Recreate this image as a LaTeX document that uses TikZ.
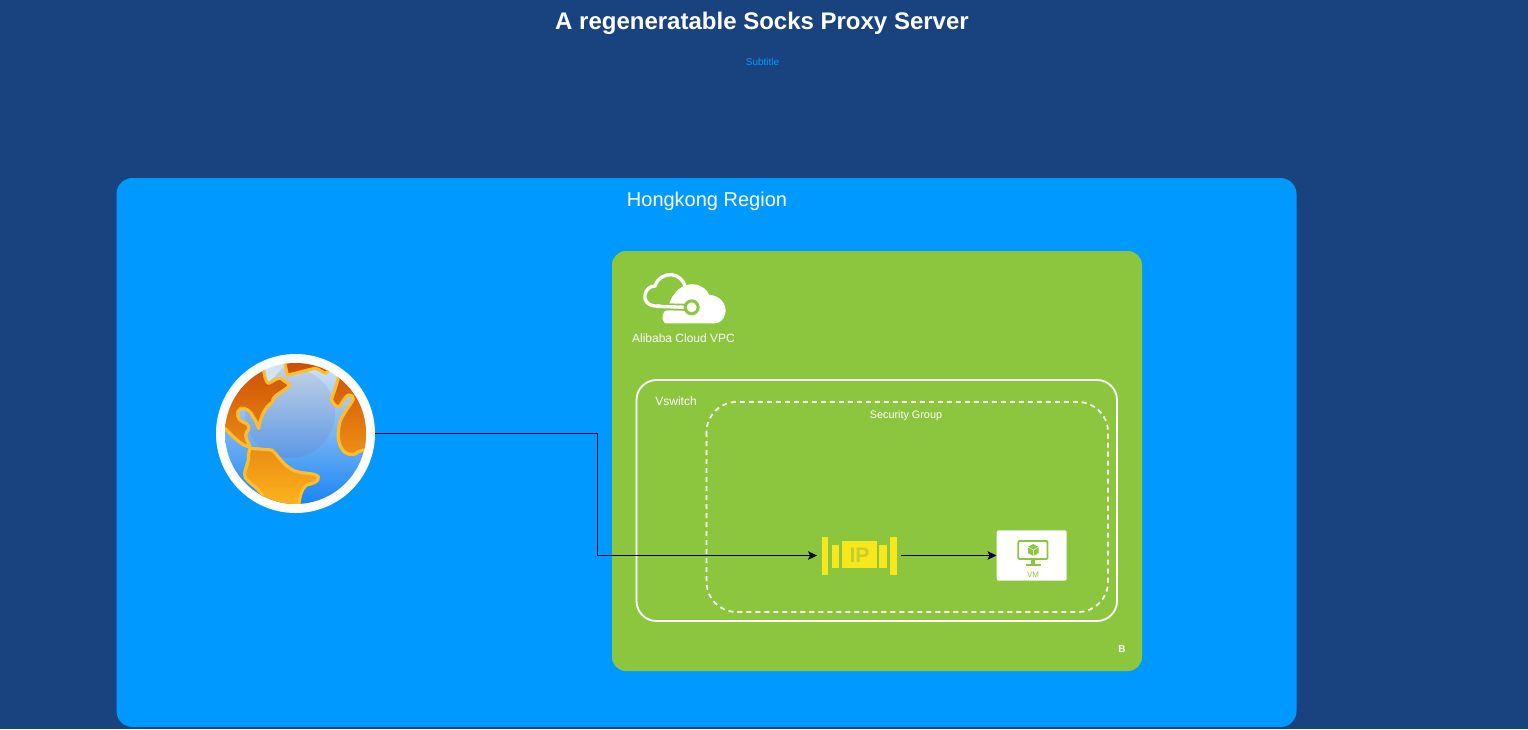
\documentclass[tikz,border=0pt]{standalone}
\usepackage{fontspec}
\setmainfont{Liberation Sans}
\usepackage{tikz}
\usetikzlibrary{positioning,arrows.meta,calc}
\definecolor{pagebg}{HTML}{18437F}
\definecolor{regionblue}{HTML}{0099FF}
\definecolor{vpcgreen}{HTML}{8CC63F}
\definecolor{ipyellow}{HTML}{F7E81E}
\definecolor{iptext}{HTML}{C6CE2C}
\definecolor{landedge}{HTML}{FFBE2E}
\definecolor{landtop}{HTML}{CC4A04}
\definecolor{landbottom}{HTML}{FFB81F}
\definecolor{seatop}{HTML}{D2E4F6}
\definecolor{seamid}{HTML}{7DB6FA}
\definecolor{seabottom}{HTML}{1B85F2}
\definecolor{glowtop}{HTML}{C0D0E4}
\definecolor{glowbottom}{HTML}{5C98E6}

\begin{document}
\begin{tikzpicture}[
    x=1pt, y=-1pt,
    region/.style={fill=regionblue, rounded corners=16pt},
    vpc/.style={fill=vpcgreen, rounded corners=14pt},
    vswitch/.style={draw=white, line width=1.8pt, rounded corners=20pt},
    secgroup/.style={draw=white, line width=1.7pt, dash pattern=on 5pt off 4pt, rounded corners=30pt},
    label/.style={text=white, inner sep=0pt},
    land/.style={top color=landtop, bottom color=landbottom,
                 draw=landedge, line width=3.2pt, line join=round},
    arr/.style={-{Stealth[length=9pt,width=8.5pt,inset=2pt]}, line width=0.9pt, draw=black!85!blue}
]
  \fill[pagebg] (0,0) rectangle (1528,729);
  \useasboundingbox (0,0) rectangle (1528,729);

  \node[label, font=\fontsize{24}{28}\selectfont\bfseries] (title) at (762,23.5) {A regeneratable Socks Proxy Server};
  \node[inner sep=0pt, text=regionblue, font=\fontsize{10}{12}\selectfont] (subtitle) at (762.5,62) {Subtitle};

  \fill[region] (116.5,178) rectangle (1296.5,727);
  \node[label, font=\fontsize{20}{24}\selectfont] (hongkong) at (707,201.5) {Hongkong Region};

  \fill[vpc] (612,251) rectangle (1142,671);
  \node[label, font=\fontsize{12}{14}\selectfont] (vpclabel) at (683.5,338.5) {Alibaba Cloud VPC};
  \node[label, font=\fontsize{10}{12}\selectfont\bfseries] (zone) at (1122,649.5) {B};

  \draw[vswitch] (636.5,380) rectangle (1117,621);
  \node[label, font=\fontsize{12}{14}\selectfont] (vswlabel) at (676,401.5) {Vswitch};
  \draw[secgroup] (706.5,402) rectangle (1108,612);
  \node[label, font=\fontsize{10.8}{12}\selectfont] (sglabel) at (906,416) {Security Group};

  % cloud
  \begin{scope}[shift={(620,260)}, scale=0.3333]
    \draw[white, line width=3.4pt, line cap=round]
      (200,142) -- (105,138) .. controls (80,135) and (72,120) .. (75,105)
      .. controls (78,88) and (90,78) .. (105,78)
      .. controls (112,55) and (135,42) .. (155,44)
      .. controls (175,46) and (190,60) .. (196,80);
    \fill[white] (135,190) .. controls (122,180) and (125,150) .. (145,150)
      .. controls (145,130) and (155,110) .. (165,100)
      .. controls (175,82) and (205,70) .. (222,73)
      .. controls (245,75) and (262,90) .. (268,105)
      .. controls (300,105) and (322,135) .. (316,160)
      .. controls (312,178) and (300,190) .. (285,190) -- cycle;
    \draw[vpcgreen, line width=7pt] (125,140) -- (200,142);
    \draw[white, line width=3.4pt] (110,139) -- (200,142);
    \fill[vpcgreen] (215,142) circle (24);
    \fill[white] (215,142) circle (15);
  \end{scope}

  % globe
  \node[circle, fill=white, inner sep=0pt, minimum size=159pt] (globe) at (295.5,433.5) {};
  \begin{scope}
    \clip (globe.center) circle (70.5);
    \shade[top color=seatop, middle color=seamid, bottom color=seabottom]
      (225,363) rectangle (366,503);
    \shade[top color=glowtop, bottom color=glowbottom] (290,413) circle (45);
    \begin{scope}[shift={(200,340)}, scale=0.3333]
      \fill[seatop] (185,100) -- (215,80) -- (245,85) -- (225,110) -- (205,125) -- cycle;
      \path[land]
        (60,50) -- (190,88) .. controls (195,105) and (195,125) .. (205,130)
        .. controls (220,125) and (230,112) .. (242,115) -- (270,135)
        .. controls (250,155) and (225,165) .. (220,175)
        .. controls (222,190) and (200,195) .. (195,210)
        .. controls (185,225) and (180,240) .. (176,265)
        .. controls (170,250) and (165,235) .. (160,232)
        .. controls (155,215) and (135,200) .. (122,205)
        .. controls (105,215) and (112,240) .. (130,247)
        .. controls (150,252) and (150,270) .. (140,275)
        .. controls (130,290) and (145,305) .. (150,320)
        .. controls (125,320) and (95,285) .. (75,265) -- (60,262) -- cycle
        (150,325) -- (215,330) .. controls (235,345) and (240,365) .. (270,385)
        .. controls (295,405) and (340,395) .. (355,410)
        .. controls (358,425) and (340,430) .. (320,435)
        .. controls (305,445) and (298,470) .. (295,510) -- (190,510) -- (185,462)
        .. controls (170,440) and (140,425) .. (135,410)
        .. controls (130,385) and (150,370) .. (145,345) -- cycle
        (250,50) -- (262,105) .. controls (290,100) and (320,90) .. (345,85)
        .. controls (360,88) and (370,100) .. (378,100) -- (392,85) -- (380,50) -- cycle
        (415,112) .. controls (410,140) and (395,170) .. (395,180)
        .. controls (400,195) and (410,200) .. (418,200)
        .. controls (425,190) and (435,170) .. (445,165)
        .. controls (455,165) and (462,170) .. (460,178)
        .. controls (445,205) and (420,230) .. (417,260)
        .. controls (412,290) and (415,310) .. (425,325)
        .. controls (435,345) and (460,350) .. (475,335)
        -- (520,320) -- (520,110) -- cycle;
    \end{scope}
  \end{scope}

  % ip
  \node[minimum width=75pt, minimum height=38pt, inner sep=0pt, outer xsep=4.5pt] (ip) at (859,555.5) {};
  \begin{scope}[shift={(ip.center)}]
    \fill[ipyellow] (-37.3,-19) rectangle (-30.7,19);
    \fill[ipyellow] (31,-19) rectangle (37.7,19);
    \fill[ipyellow] (-26.7,-11) rectangle (-19.7,12.3);
    \fill[ipyellow] (20.3,-11) rectangle (27.7,12.3);
    \fill[ipyellow] (-16.7,-15) rectangle (17.7,12.7);
  \end{scope}
  \node[inner sep=0pt, text=iptext, font=\fontsize{21}{24}\selectfont\bfseries] (iptxt) at (859.5,555) {IP};

  % vm
  \node[fill=white, rounded corners=2pt, minimum width=70pt, minimum height=50.4pt, inner sep=0pt] (vm) at (1031.7,555.5) {};
  \node[inner sep=0pt, text=vpcgreen, font=\fontsize{8}{9}\selectfont] (vmlabel) at (1033,575) {VM};
  \draw[vpcgreen, line width=1.8pt, rounded corners=1pt] (1018.3,541) rectangle (1047.5,559);
  \fill[vpcgreen] (1031,559) rectangle (1035,564.5);
  \fill[vpcgreen] (1026,564) rectangle (1040.5,565.5);
  \fill[vpcgreen] (1033.3,544) -- (1038.5,547) -- (1038.5,553) -- (1033.3,556) -- (1028,553) -- (1028,547) -- cycle;
  \draw[white, line width=0.4pt] (1028,547) -- (1033.3,550) -- (1038.5,547) (1033.3,550) -- (1033.3,556);

  \coordinate (elbow) at (597,555.5);
  \draw[arr] (globe.east) -| (elbow) -- (ip.west);
  \draw[arr] (ip.east) -- (vm.west);
\end{tikzpicture}
\end{document}
